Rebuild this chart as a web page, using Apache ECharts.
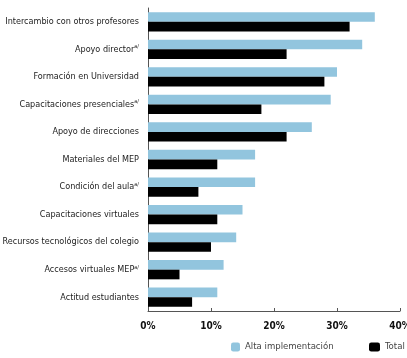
<!DOCTYPE html>
<html>
<head>
<meta charset="utf-8">
<script src="https://cdn.jsdelivr.net/npm/echarts@6/dist/echarts.min.js"></script>
<style>
  html, body { margin: 0; padding: 0; background: #fff; }
  #chart { width: 407px; height: 358px; }
</style>
</head>
<body>
<div id="chart"></div>
<script>
// categorias (de arriba hacia abajo); "|a" marca la nota a/
const categories = [
    'Intercambio con otros profesores',
    'Apoyo director|a',
    'Formación en Universidad',
    'Capacitaciones presenciales|a',
    'Apoyo de direcciones',
    'Materiales del MEP',
    'Condición del aula|a',
    'Capacitaciones virtuales',
    'Recursos tecnológicos del colegio',
    'Accesos virtuales MEP|a',
    'Actitud estudiantes'
];
const altaImplementacion = [36, 34, 30, 29, 26, 17, 17, 15, 14, 12, 11];
const total = [32, 22, 28, 18, 22, 11, 8, 11, 10, 5, 7];
const xTicks = [0, 10, 20, 30, 40];

const font = '"DejaVu Sans Condensed", "Liberation Sans Narrow", sans-serif';

const myChart = echarts.init(document.getElementById('chart'));
myChart.setOption({
    animation: false,
    textStyle: { fontFamily: font },
    grid: { left: 148, right: 7, top: 8, bottom: 47, outerBoundsMode: 'none' },
    legend: [
        {
            data: ['Alta implementación'],
            left: 231, bottom: 6, padding: 0,
            itemWidth: 9, itemHeight: 9, itemGap: 4,
            textStyle: { fontFamily: font, fontSize: 9.5, color: '#444' }
        },
        {
            data: ['Total'],
            left: 369, bottom: 6, padding: 0,
            itemWidth: 11, itemHeight: 9, itemGap: 4,
            textStyle: { fontFamily: font, fontSize: 9.5, color: '#444' }
        }
    ],
    xAxis: {
        type: 'value',
        min: xTicks[0],
        max: xTicks[xTicks.length - 1],
        interval: 10,
        splitLine: { show: false },
        axisLine: { show: true, lineStyle: { color: '#555' } },
        axisTick: { show: true, inside: true, length: 3, lineStyle: { color: '#555' } },
        axisLabel: {
            formatter: v => v + '%',
            fontFamily: font,
            fontSize: 10,
            fontWeight: 'bold',
            color: '#111',
            margin: 10
        }
    },
    yAxis: {
        type: 'category',
        inverse: true,
        data: categories,
        axisLine: { lineStyle: { color: '#555' } },
        axisTick: { length: 4, lineStyle: { color: '#555' } },
        axisLabel: {
            margin: 9,
            color: '#222',
            fontFamily: font,
            fontSize: 9,
            formatter: v => {
                const parts = v.split('|');
                return parts.length > 1 ? parts[0] + '{sup|a/}' : parts[0];
            },
            rich: {
                sup: { fontSize: 5.5, fontFamily: font, color: '#222', verticalAlign: 'top', padding: [0, 0, 5, 0] }
            }
        }
    },
    series: [
        {
            name: 'Alta implementación',
            type: 'bar',
            data: altaImplementacion,
            barGap: '0%',
            barCategoryGap: '30%',
            itemStyle: { color: '#92c5de' }
        },
        {
            name: 'Total',
            type: 'bar',
            data: total,
            itemStyle: { color: '#000' }
        }
    ]
});
</script>
</body>
</html>
